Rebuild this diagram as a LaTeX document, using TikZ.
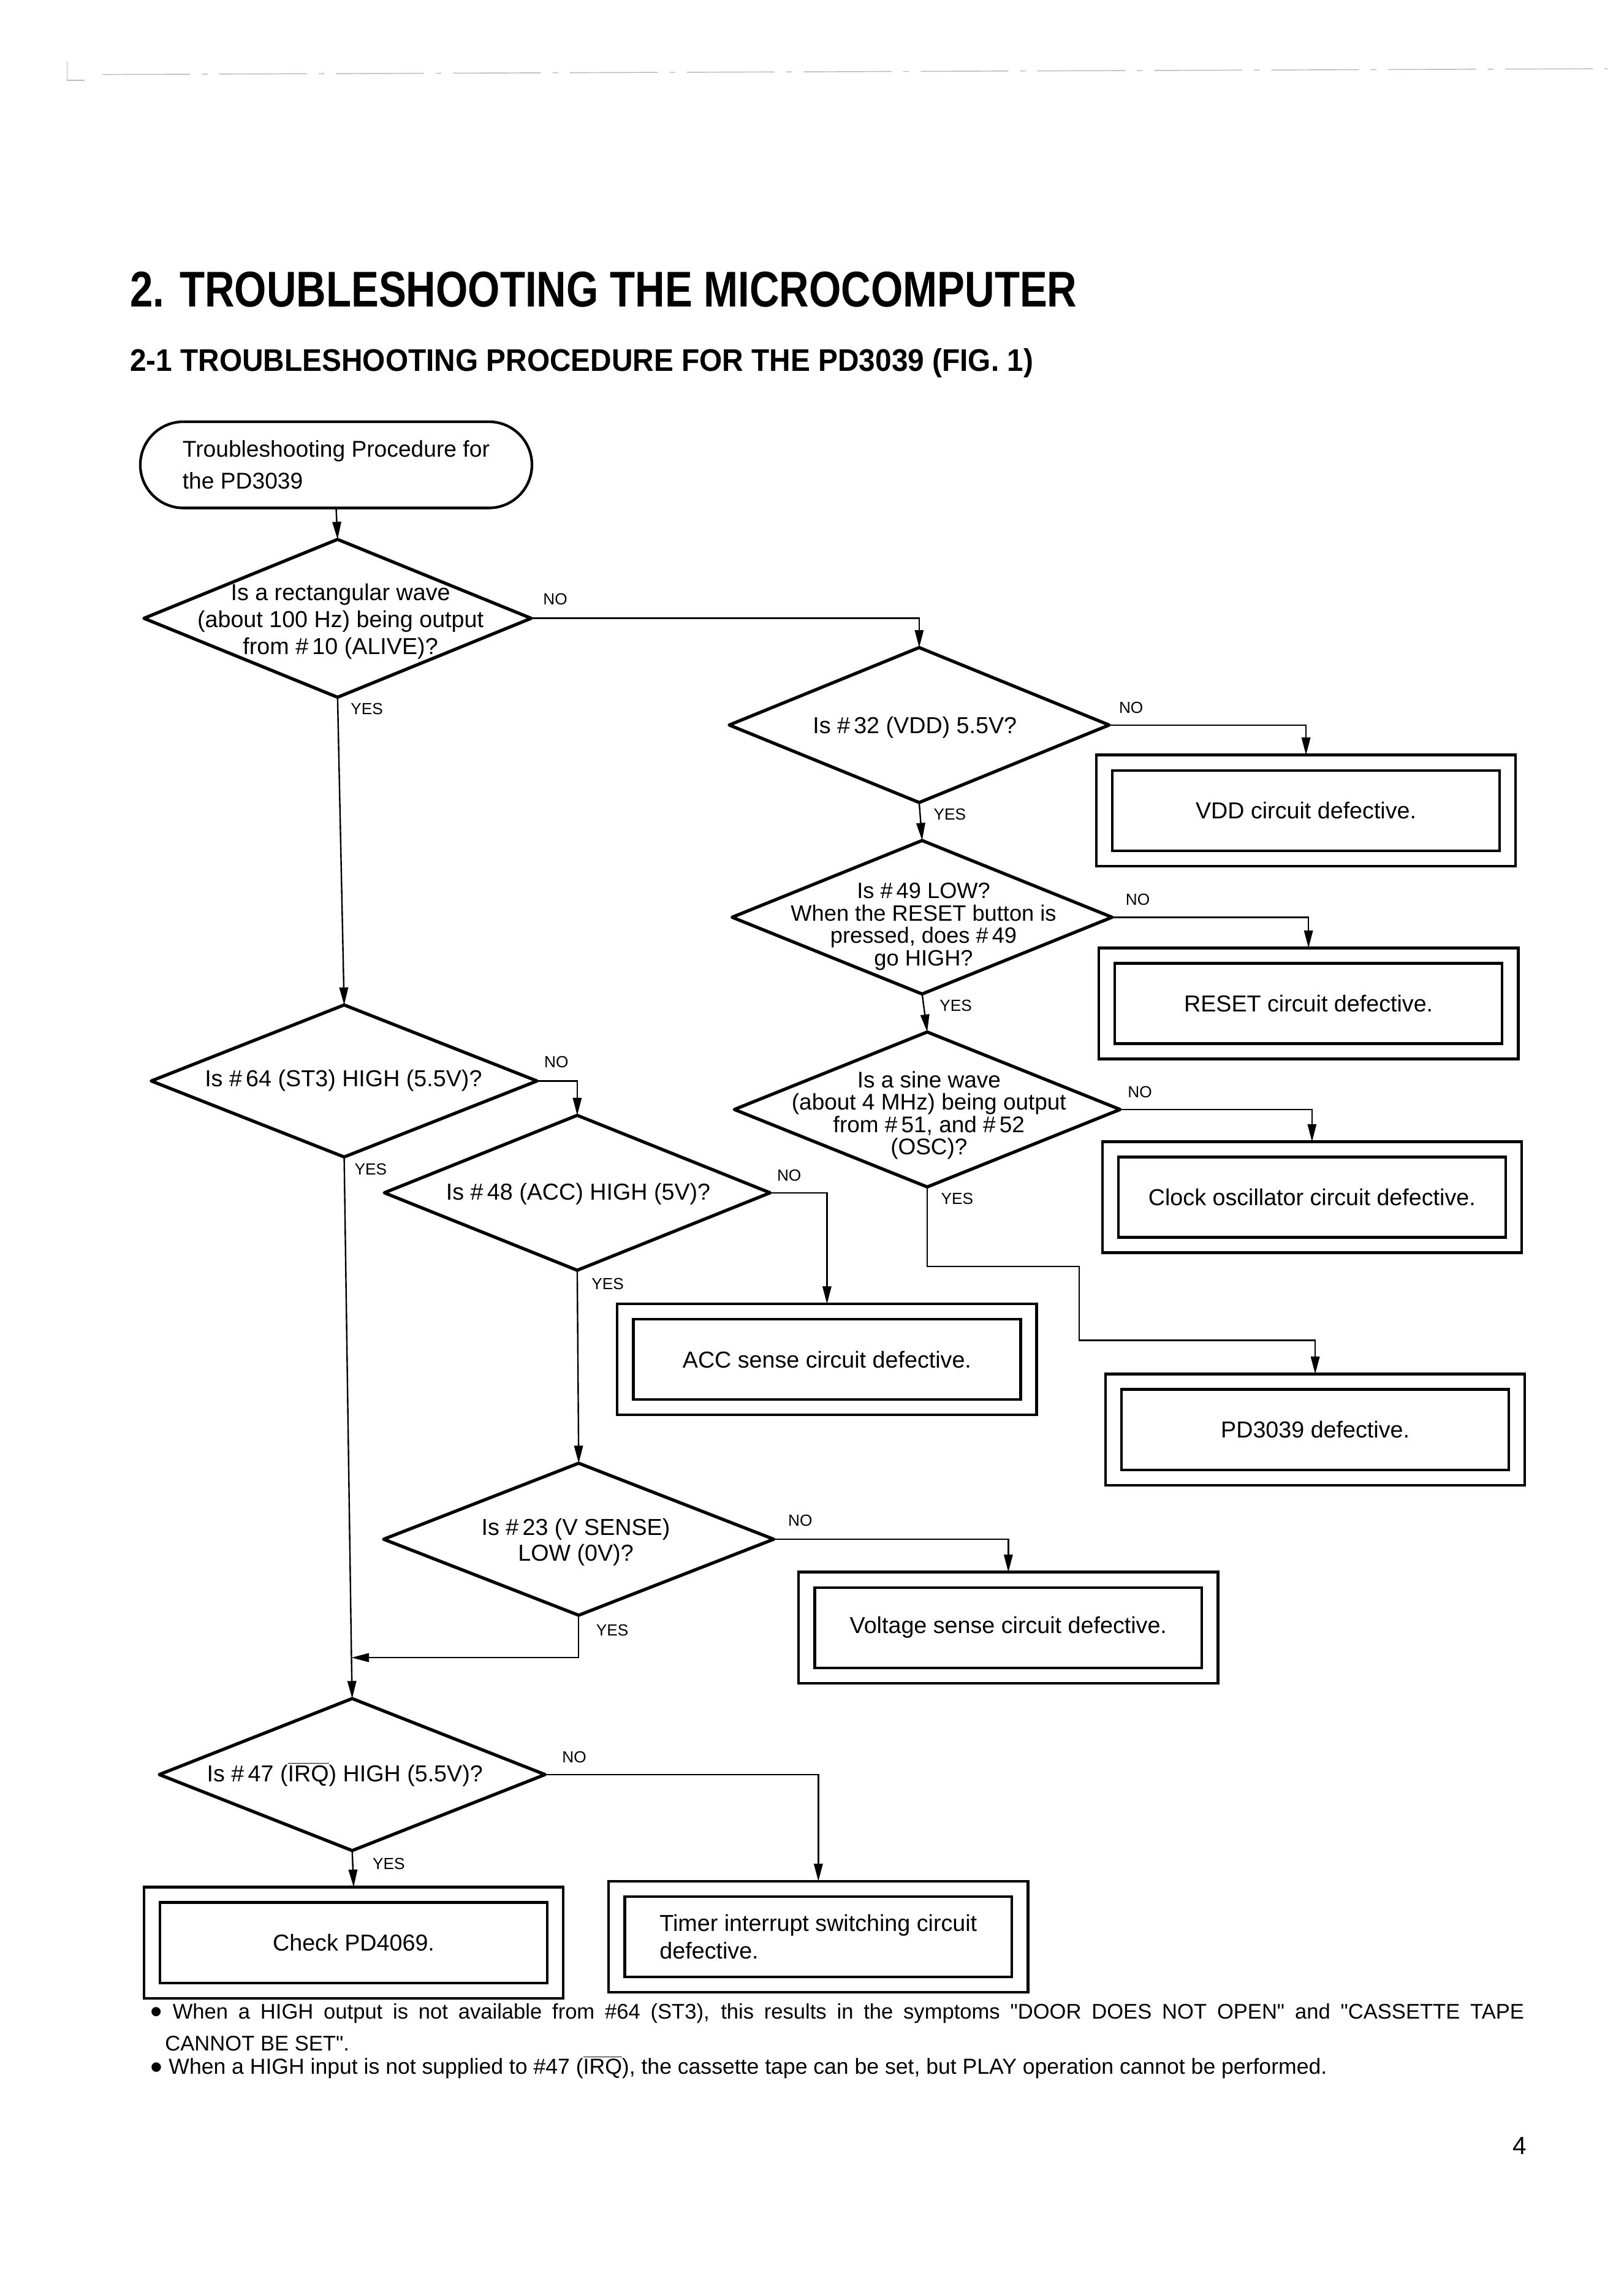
\documentclass[tikz,border=0pt]{standalone}
\usepackage{fontspec}
\usepackage{graphicx}
\setmainfont{Liberation Sans}[Ligatures=TeXOff]
\usetikzlibrary{shapes.geometric,shapes.misc,arrows.meta}
\newcommand{\qd}{"}
\newcommand{\bul}{\raisebox{-3pt}{\scalebox{1.6}{\textbullet}}}
\begin{document}
\begin{tikzpicture}[x=1pt,y=-1pt,
  every node/.style={inner sep=0pt,outer sep=0pt},
  dia/.style={draw,diamond,line width=2.2pt,line join=round},
  dtext/.style={align=center,font=\fontsize{15.8}{18.5}\selectfont},
  box/.style={draw,line width=1.8pt,minimum width=287,minimum height=76,align=center,font=\fontsize{15.8}{19}\selectfont},
  inbox/.style={draw,line width=1.8pt},
  lab/.style={font=\fontsize{11}{13}\selectfont},
  conn/.style={line width=1pt},
  arr/.style={conn,-{Triangle[length=12pt,width=6pt]}},
  term/.style={draw,rounded rectangle,line width=1.8pt,minimum width=268,minimum height=59,align=left,font=\fontsize{15.6}{22}\selectfont},
  foot/.style={anchor=base west,font=\fontsize{14.5}{17}\selectfont},
  head/.style={anchor=base west}
]
\useasboundingbox (0,0) rectangle (1111,1568);

% scan header line
\draw[gray!55,line width=0.6pt] (46,42) -- (46,55) -- (58,55);
\draw[gray!55,line width=0.6pt,dash pattern=on 60pt off 8pt on 4pt off 8pt] (70,51) -- (1100,47);

% titles
\node[head] (title) at (89,210) {\resizebox{648pt}{24pt}{\bfseries 2. TROUBLESHOOTING THE MICROCOMPUTER}};
\node[head] (subtitle) at (89,254) {\resizebox{618pt}{15.5pt}{\bfseries 2-1 TROUBLESHOOTING PROCEDURE FOR THE PD3039 (FIG. 1)}};

% start
\node[term] (start) at (230,318) {Troubleshooting Procedure for\\the PD3039};

% diamonds
\node[dia,minimum width=265,minimum height=108] (d1) at (231,423) {};
\node[dtext] (d1t) at (233,425) {Is a rectangular wave\\(about 100 Hz) being output\\from \#\,10 (ALIVE)?};
\node[dia,minimum width=260,minimum height=106] (d2) at (629,496) {};
\node[dtext] (d2t) at (626,497.5) {Is \#\,32 (VDD) 5.5V?};
\node[dia,minimum width=260,minimum height=105] (d3) at (631,627.5) {};
\node[dtext,font=\fontsize{15.2}{15.3}\selectfont] (d3t) at (632,634) {Is \#\,49 LOW?\\When the RESET button is\\pressed, does \#\,49\\go HIGH?};
\node[dia,minimum width=264,minimum height=106] (d5) at (634.5,759) {};
\node[dtext,font=\fontsize{15.5}{15.3}\selectfont] (d5t) at (635.7,763) {Is a sine wave\\(about 4 MHz) being output\\from \#\,51, and \#\,52\\(OSC)?};
\node[dia,minimum width=264,minimum height=104] (d4) at (235.5,739.5) {};
\node[dtext] (d4t) at (235,739.3) {Is \#\,64 (ST3) HIGH (5.5V)?};
\node[dia,minimum width=264,minimum height=106] (d6) at (395,816) {};
\node[dtext] (d6t) at (395.7,817) {Is \#\,48 (ACC) HIGH (5V)?};
\node[dia,minimum width=267,minimum height=104] (d7) at (396,1053) {};
\node[dtext,font=\fontsize{15.8}{17.6}\selectfont] (d7t) at (394,1055) {Is \#\,23 (V SENSE)\\LOW (0V)?};
\node[dia,minimum width=264,minimum height=104] (d8) at (241,1214) {};
\node[dtext] (d8t) at (236,1214) {Is \#\,47 ($\overline{\mbox{IRQ}}$) HIGH (5.5V)?};

% result boxes
\node[box] (b1) at (893.7,554.5) {VDD circuit defective.};
\node[box] (b2) at (895.4,686.5) {RESET circuit defective.};
\node[box] (b3) at (897.8,819) {Clock oscillator circuit defective.};
\node[box] (b4) at (900,978) {PD3039 defective.};
\node[box] (b5) at (565.9,930) {ACC sense circuit defective.};
\node[box] (b6) at (690,1113.5) {Voltage sense circuit defective.};
\node[box] (b7) at (242,1329) {Check PD4069.};
\node[box,align=left] (b8) at (560,1325) {Timer interrupt switching circuit\\defective.};
\foreach \b in {b1,b2,b3,b4,b5,b6,b7,b8}
  \draw[inbox] ([shift={(11,10.5)}]\b.north west) rectangle ([shift={(-11,-10.5)}]\b.south east);

% labels
\node[lab] (n1) at (380,410) {NO};
\node[lab] (y1) at (251,485) {YES};
\node[lab] (n2) at (774,484) {NO};
\node[lab] (y2) at (650,557) {YES};
\node[lab] (n3) at (778.6,615.6) {NO};
\node[lab] (y3) at (654,688) {YES};
\node[lab] (n5) at (780,747) {NO};
\node[lab] (y5) at (655,820) {YES};
\node[lab] (n4) at (380.7,726.7) {NO};
\node[lab] (y4) at (253.7,800) {YES};
\node[lab] (n6) at (540,804) {NO};
\node[lab] (y6) at (415.8,878.4) {YES};
\node[lab] (n7) at (547.6,1040) {NO};
\node[lab] (y7) at (419,1115.3) {YES};
\node[lab] (n8) at (393,1202) {NO};
\node[lab] (y8) at (266,1275) {YES};

% connectors
\coordinate (p1) at (738.5,866.5);
\coordinate (p2) at (738.5,917);
\coordinate (m) at (240.5,1134);
\draw[arr] (start.south) -- (d1.north);
\draw[arr] (d1.east) -| (d2.north);
\draw[arr] (d1.south) -- (d4.north);
\draw[arr] (d2.east) -| (b1.north);
\draw[arr] (d2.south) -- (d3.north);
\draw[arr] (d3.east) -| (b2.north);
\draw[arr] (d3.south) -- (d5.north);
\draw[arr] (d5.east) -| (b3.north);
\draw[arr] (d5.south) |- (p1) -- (p2) -| (b4.north);
\draw[arr] (d4.east) -| (d6.north);
\draw[conn] (d4.south) -- (m);
\draw[arr] (m) -- (d8.north);
\draw[arr] (d6.east) -| (b5.north);
\draw[arr] (d6.south) -- (d7.north);
\draw[arr] (d7.east) -| (b6.north);
\draw[arr] (d7.south) |- (m);
\draw[arr] (d8.east) -| (b8.north);
\draw[arr] (d8.south) -- (b7.north);

% notes
\node[foot] (f1) at (103,1381) {\makebox[940pt][s]{\bul\ When a HIGH output is not available from \#64 (ST3), this results in the symptoms \qd DOOR DOES NOT OPEN\qd\ and \qd CASSETTE TAPE}};
\node[foot] (f2) at (113,1403) {CANNOT BE SET\qd.};
\node[foot] (f3) at (103,1419) {\resizebox{805pt}{!}{\bul\ When a HIGH input is not supplied to \#47 ($\overline{\mbox{IRQ}}$), the cassette tape can be set, but PLAY operation cannot be performed.}};

% page number
\node[font=\fontsize{17}{20}\selectfont] (pg) at (1040,1468) {4};
\end{tikzpicture}
\end{document}
